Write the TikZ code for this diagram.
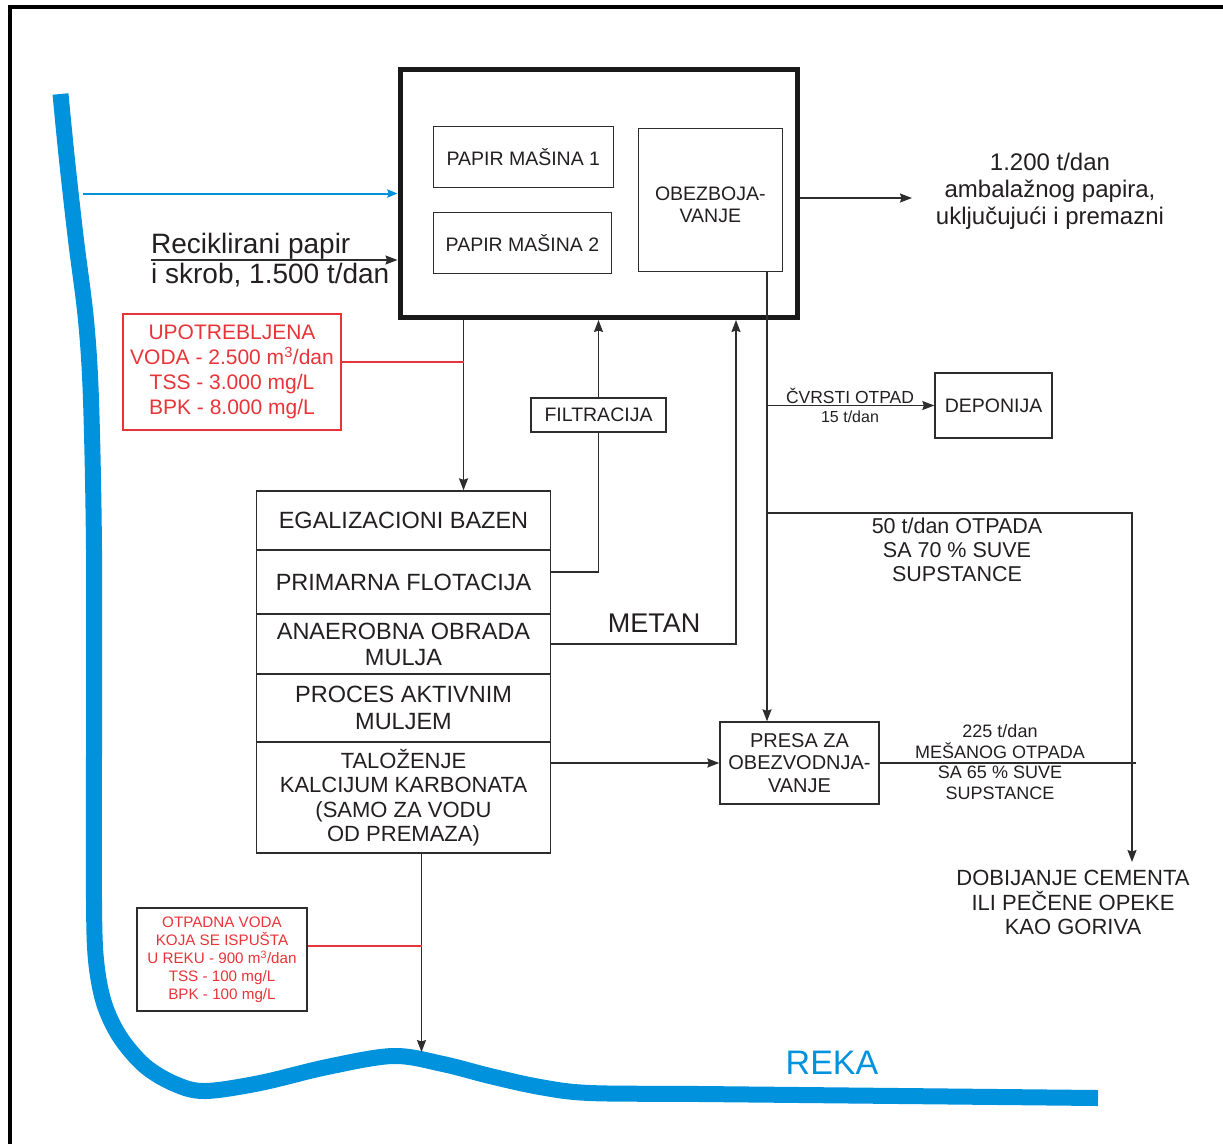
\documentclass[tikz,border=0pt]{standalone}
\usepackage{fontspec}
\setmainfont{Liberation Sans}
\usetikzlibrary{arrows.meta}
\definecolor{river}{RGB}{0,146,221}
\definecolor{redc}{RGB}{232,52,56}
\definecolor{ink}{RGB}{35,31,32}
\definecolor{wire}{RGB}{45,45,45}
\begin{document}
\begin{tikzpicture}[x=1pt,y=-1pt,
  every node/.style={inner sep=0pt, text=ink},
  box/.style={draw=wire, line width=1.3pt, align=center},
  wireline/.style={draw=wire, line width=1.6pt},
  arr/.style={wireline, -{Stealth[length=12pt,width=9pt,inset=1.5pt]}},
  redline/.style={draw=redc, line width=1.3pt},
  stackbox/.style={box, minimum width=293.5pt, font=\fontsize{23.5}{25}\selectfont},
]
\useasboundingbox (0,0) rectangle (1223,1144);
% river
\draw[river, line width=16pt] plot[smooth, tension=0.55] coordinates {
  (60.5,94) (67,160) (76,240) (86,320) (91,400) (94,550) (94,750) (94,900)
  (96,960) (104,1003) (120,1037) (145,1066) (175,1084) (205,1091) (260,1083)
  (327,1067) (393,1056) (443,1064) (490,1076) (540,1087) (590,1093) (700,1094)
  (900,1096) (1098,1098)};
% frame
\draw[line width=4pt, black] (10,1144) -- (10,7) -- (1223,7);

% main block
\node[box, draw=black!90, line width=5pt, minimum width=397pt, minimum height=248.5pt] (main) at (598.5,193.25) {};
\node[box, minimum width=180pt, minimum height=61pt, font=\fontsize{19.5}{22}\selectfont] (pm1) at (523.3,157.2) {PAPIR MAŠINA 1};
\node[box, minimum width=178.4pt, minimum height=61pt, font=\fontsize{19.5}{22}\selectfont] (pm2) at (522.5,242.8) {PAPIR MAŠINA 2};
\node[box, minimum width=144pt, minimum height=143.4pt] (obez) at (710.3,200) {};
\node[align=center, font=\fontsize{19.5}{22}\selectfont] (obezt) at (710.3,205) {OBEZBOJA-\\VANJE};

% texts top
\node[align=center, font=\fontsize{24}{27}\selectfont] (prod) at (1050,191.5) {1.200 t/dan\\ambalažnog papira,\\uključujući i premazni};
\node[align=left, anchor=west, font=\fontsize{28}{30}\selectfont] (recl) at (151,260) {Reciklirani papir\\i skrob, 1.500 t/dan};

% red info box
\node[draw=redc, line width=1.3pt, text=redc, align=center, minimum width=218pt, minimum height=116pt, font=\fontsize{21}{25}\selectfont] (upo) at (232,372) {UPOTREBLJENA\\VODA - 2.500 m\textsuperscript{3}/dan\\TSS - 3.000 mg/L\\BPK - 8.000 mg/L};

% filtration
\node[box, minimum width=135pt, minimum height=34pt, font=\fontsize{19.5}{22}\selectfont] (filt) at (598.5,415) {FILTRACIJA};

% stack
\node[stackbox, minimum height=59pt] (egal) at (403.5,520.5) {EGALIZACIONI BAZEN};
\node[stackbox, minimum height=64pt] (flot) at (403.5,582) {PRIMARNA FLOTACIJA};
\node[stackbox, minimum height=60pt, font=\fontsize{23.5}{26}\selectfont] (anae) at (403.5,644) {ANAEROBNA OBRADA\\MULJA};
\node[stackbox, minimum height=68pt, font=\fontsize{23.5}{27}\selectfont] (proc) at (403.5,708) {PROCES AKTIVNIM\\MULJEM};
\node[stackbox, minimum height=111pt, font=\fontsize{22}{24.3}\selectfont] (talo) at (403.5,797.5) {TALOŽENJE\\KALCIJUM KARBONATA\\(SAMO ZA VODU\\OD PREMAZA)};

\node[font=\fontsize{27}{30}\selectfont] (metan) at (654,623) {METAN};

% right side
\node[align=center, font=\fontsize{17.5}{20}\selectfont] (cvrsti) at (850,405) {ČVRSTI OTPAD\\[-1pt]{\fontsize{16}{18}\selectfont 15 t/dan}};
\node[box, minimum width=117pt, minimum height=65pt, font=\fontsize{19.5}{22}\selectfont] (dep) at (993.5,405.5) {DEPONIJA};
\node[align=center, font=\fontsize{21.5}{24}\selectfont] (t50) at (957,550) {50 t/dan OTPADA\\SA 70 \% SUVE\\SUPSTANCE};
\node[box, minimum width=159pt, minimum height=82pt, font=\fontsize{20}{22.5}\selectfont] (presa) at (799.5,763) {PRESA ZA\\OBEZVODNJA-\\VANJE};
\node[align=center, font=\fontsize{18}{20.5}\selectfont] (t225) at (1000,762) {225 t/dan\\MEŠANOG OTPADA\\SA 65 \% SUVE\\SUPSTANCE};
\node[align=center, inner ysep=8pt, font=\fontsize{22}{24.5}\selectfont] (cem) at (1073,902.5) {DOBIJANJE CEMENTA\\ILI PEČENE OPEKE\\KAO GORIVA};

% waste water box
\node[draw=wire, line width=1.3pt, text=redc, align=center, minimum width=170pt, minimum height=103pt, font=\fontsize{15.2}{18}\selectfont] (otp) at (222,959.5) {OTPADNA VODA\\KOJA SE ISPUŠTA\\U REKU - 900 m\textsuperscript{3}/dan\\TSS - 100 mg/L\\BPK - 100 mg/L};

\node[text=river, font=\fontsize{34}{36}\selectfont] (reka) at (832,1063) {REKA};

% connectors
\coordinate (bs) at (83,193.5);
\draw[river, line width=2pt, -{Stealth[length=10pt,width=8pt,inset=1pt]}] (bs) -- (bs -| main.west);
\draw[arr] (recl.west) -- (recl.west -| main.west);
\coordinate (outend) at (912,198);
\draw[arr] (outend -| main.east) -- (outend);

\coordinate (xa) at (463.5,0);
\draw[arr] (main.south -| xa) -- (egal.north -| xa);
\draw[redline] ([yshift=10pt]upo.east) -- ([yshift=10pt]upo.east -| xa);

\draw[arr] (filt.north) -- (filt.north |- main.south);
\draw[wireline] ([yshift=10pt]flot.east) -| (filt.south);

\coordinate (xm) at (736,0);
\draw[arr] (anae.east) -| (xm |- main.south);

\coordinate (xv) at (767,0);
\draw[arr] (obez.south -| xv) -- (presa.north -| xv);
\draw[arr] (dep.west -| xv) -- (dep.west);
\coordinate (c50) at (1132,513);
\draw[arr] (c50 -| xv) -- (c50) -- (c50 |- cem.north);

\draw[arr] (presa.west -| talo.east) -- (presa.west);
\coordinate (pend) at (1136,763);
\draw[wireline] (presa.east) -- (pend);

\coordinate (rivpt) at (421.5,1052);
\draw[arr] (talo.south -| rivpt) -- (rivpt);
\draw[redline] ([yshift=13.5pt]otp.east) -- ([yshift=13.5pt]otp.east -| rivpt);
\end{tikzpicture}
\end{document}
